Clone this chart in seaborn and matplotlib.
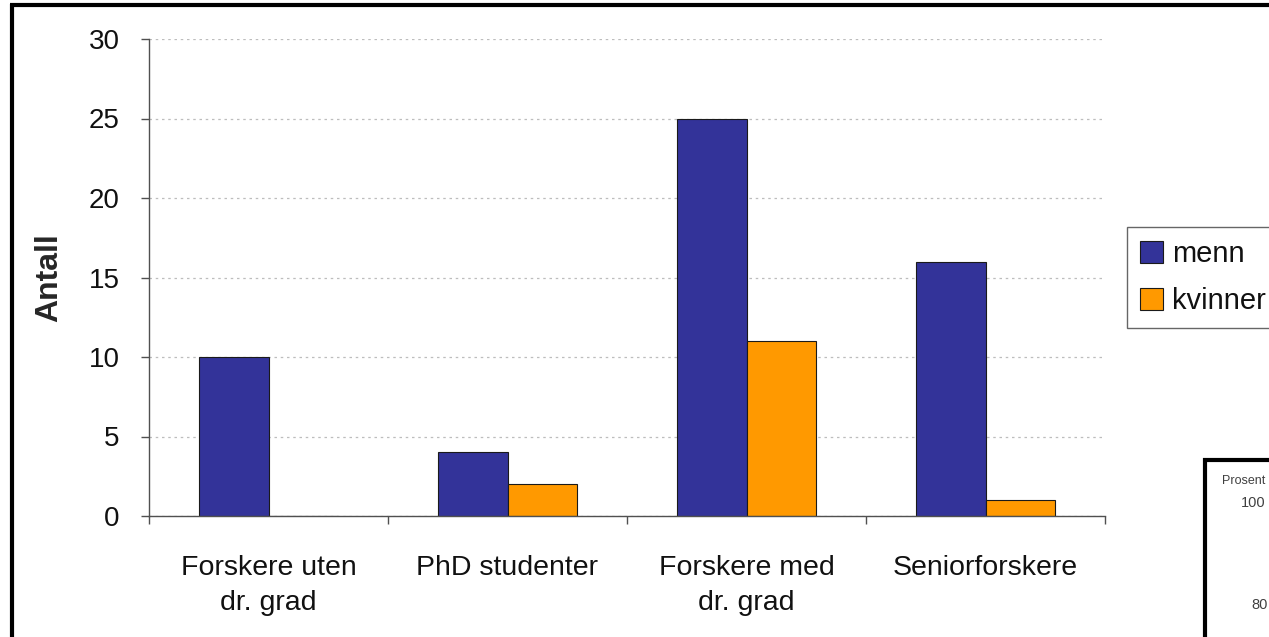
import matplotlib

matplotlib.use("Agg")

import matplotlib.pyplot as plt
import pandas as pd
import seaborn as sns
from matplotlib.lines import Line2D
from matplotlib.patches import Patch

# ── Data ──────────────────────────────────────────────────────────────────────
categories = ["Forskere uten\ndr. grad", "PhD studenter", "Forskere med\ndr. grad", "Seniorforskere"]
series = ["menn", "kvinner"]
menn = [10, 4, 25, 16]
kvinner = [0, 2, 11, 1]
colors = ["#333399", "#FF9900"]
y_ticks = [0, 5, 10, 15, 20, 25, 30]

df = pd.DataFrame({
    "kategori": categories * 2,
    "kjonn": [series[0]] * 4 + [series[1]] * 4,
    "antall": menn + kvinner,
})

# ── Style ─────────────────────────────────────────────────────────────────────
sns.set_style("white")
plt.rcParams["font.family"] = ["Liberation Sans", "DejaVu Sans"]
plt.rcParams["text.color"] = "#111111"
plt.rcParams["xtick.color"] = "#111111"
plt.rcParams["ytick.color"] = "#111111"

W, H = 1269, 637
fig = plt.figure(figsize=(W / 100, H / 100), dpi=100)
ax = fig.add_axes([149 / W, 121 / H, 956 / W, 477 / H])

sns.barplot(data=df, x="kategori", y="antall", hue="kjonn", order=categories,
            hue_order=series, palette=colors, width=0.585, saturation=1,
            edgecolor="#1a1a1a", linewidth=0.8, ax=ax, legend=False)

ax.set_xlim(-0.5, 3.5)
ax.set_ylim(0, 30)
ax.set_yticks(y_ticks)
ax.yaxis.grid(True, linestyle=(0, (2, 3)), color="#bdbdbd", linewidth=0.9)
ax.xaxis.grid(False)
ax.set_axisbelow(True)

for side in ["top", "right"]:
    ax.spines[side].set_visible(False)
for side in ["left", "bottom"]:
    ax.spines[side].set_color("#505050")
    ax.spines[side].set_linewidth(1.0)

ax.tick_params(axis="y", direction="out", length=6, width=1, color="#505050",
               labelsize=20, pad=15, left=True)
ax.set_xticks([0, 1, 2, 3])
ax.set_xticklabels(categories, fontsize=20.5, linespacing=1.45)
ax.set_xticks([-0.5, 0.5, 1.5, 2.5, 3.5], minor=True)
ax.tick_params(axis="x", which="major", length=0, pad=28)
ax.tick_params(axis="x", which="minor", direction="out", length=6, width=1,
               color="#505050", bottom=True)

ax.set_xlabel("")
ax.set_ylabel("Antall", fontsize=23, fontweight="bold", labelpad=18)

# ── Legend (cut by the right edge, as in the reference) ──────────────────────
handles = [Patch(facecolor=c, edgecolor="#1a1a1a", linewidth=0.8) for c in colors]
fig.legend(handles, series, loc="upper left", bbox_to_anchor=(1127 / W, 1 - 227 / H),
           fontsize=21, frameon=True, fancybox=False, edgecolor="#404040",
           handlelength=0.8, handleheight=0.8, handletextpad=0.3,
           borderpad=0.45, labelspacing=0.65, borderaxespad=0)
fig.legends[0].get_frame().set_linewidth(1.0)

# ── Outer frame and the edge of the neighbouring chart ───────────────────────
fig.add_artist(Line2D([12 / W, 12 / W], [0, 1 - 4 / H], color="black", linewidth=3,
                      transform=fig.transFigure, solid_capstyle="butt"))
fig.add_artist(Line2D([10 / W, 1], [1 - 5 / H, 1 - 5 / H], color="black", linewidth=3,
                      transform=fig.transFigure, solid_capstyle="butt"))
fig.add_artist(Line2D([1205 / W, 1205 / W], [0, 1 - 458 / H], color="black", linewidth=3,
                      transform=fig.transFigure, solid_capstyle="butt"))
fig.add_artist(Line2D([1203 / W, 1], [1 - 460 / H, 1 - 460 / H], color="black", linewidth=3,
                      transform=fig.transFigure, solid_capstyle="butt"))
fig.text(1222 / W, 1 - 481 / H, "Prosent", fontsize=9, color="#404040", va="center")
fig.text(1241 / W, 1 - 503 / H, "100", fontsize=10.5, color="#404040", va="center")
fig.text(1251 / W, 1 - 605 / H, "80", fontsize=10.5, color="#404040", va="center")

fig.savefig("out.png", dpi=100)
